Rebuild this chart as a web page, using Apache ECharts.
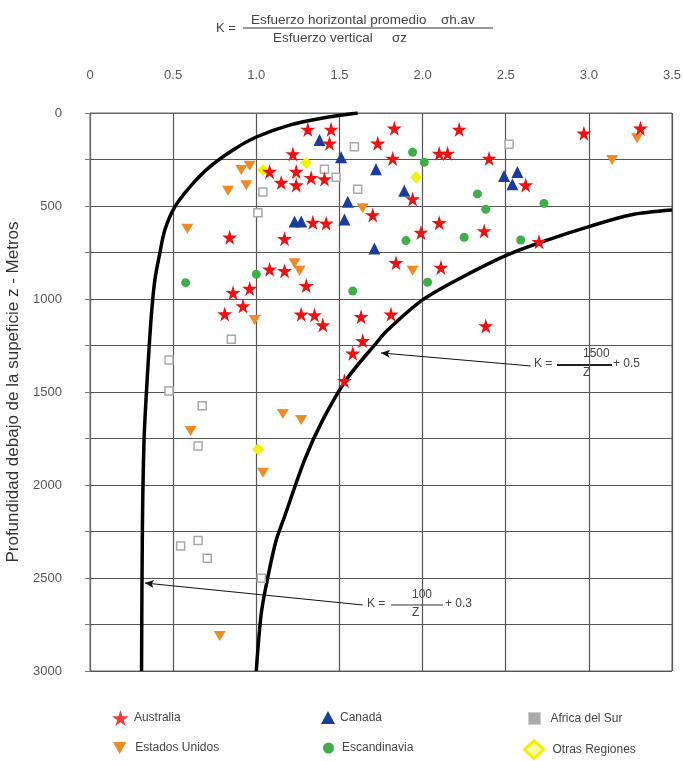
<!DOCTYPE html>
<html>
<head>
<meta charset="utf-8">
<script src="https://cdn.jsdelivr.net/npm/echarts@6/dist/echarts.min.js"></script>
<style>
  html, body { margin: 0; padding: 0; background: #fff; }
  #chart { width: 683px; height: 761px; }
</style>
</head>
<body>
<div id="chart"></div>
<script>
// eje x: K, eje y: profundidad z (m)
var xTicks = [0, 0.5, 1.0, 1.5, 2.0, 2.5, 3.0, 3.5];
var yTicks = [0, 500, 1000, 1500, 2000, 2500, 3000];

// [K, z]
var australia = [
  [1.31, 88], [1.45, 88], [1.44, 163], [1.22, 220], [1.08, 315], [1.24, 315], [1.33, 348], [1.41, 355],
  [1.15, 374], [1.24, 387], [1.34, 588], [1.42, 593], [0.84, 668], [1.17, 676], [1.08, 840], [1.17, 848],
  [1.30, 928], [0.86, 966], [0.96, 944], [0.92, 1038], [0.81, 1081], [1.27, 1082], [1.35, 1086], [1.40, 1140],
  [1.63, 1095], [1.64, 1225], [1.73, 163], [1.70, 548], [1.83, 82], [2.22, 88], [2.97, 109], [3.31, 82],
  [1.82, 244], [2.10, 217], [2.15, 217], [2.40, 244], [2.62, 387], [1.94, 462], [2.10, 590], [1.99, 642],
  [2.37, 634], [2.70, 692], [1.84, 805], [2.11, 830], [1.81, 1082], [2.38, 1145], [1.58, 1292], [1.53, 1439]
];
var canada = [
  [1.38, 145], [1.51, 238], [1.72, 303], [1.55, 477], [1.23, 584], [1.27, 584], [1.53, 572], [1.71, 728],
  [2.49, 339], [2.57, 317], [2.54, 383], [1.89, 418]
];
var africaSur = [
  [1.59, 181], [1.41, 303], [1.48, 346], [1.61, 410], [1.04, 425], [1.01, 536], [0.85, 1217], [2.52, 168],
  [0.475, 1328], [0.475, 1495], [0.675, 1574], [0.65, 1790], [0.545, 2328], [0.65, 2299], [0.705, 2394], [1.03, 2502]
];
var estadosUnidos = [
  [0.91, 306], [0.96, 283], [0.83, 418], [0.94, 389], [0.585, 622], [1.23, 808], [1.26, 848], [1.64, 512],
  [0.99, 1113], [3.29, 136], [3.14, 253], [1.94, 848], [0.605, 1710], [1.16, 1618], [1.27, 1651], [1.04, 1934],
  [0.78, 2812]
];
var escandinavia = [
  [0.575, 912], [1.00, 867], [1.58, 957], [1.94, 211], [2.01, 265], [2.33, 435], [2.38, 518], [2.73, 486],
  [1.90, 686], [2.25, 668], [2.59, 683], [2.03, 910]
];
var otrasRegiones = [[1.30, 267], [1.04, 306], [1.96, 346], [1.01, 1808]];

// curvas limite
var curvaBaja = [
  [1.61, 0], [1.40, 27], [1.20, 65], [1.00, 129], [0.86, 199], [0.72, 290], [0.60, 398], [0.51, 505],
  [0.45, 629], [0.42, 753], [0.39, 898], [0.37, 1075], [0.355, 1270], [0.34, 1490], [0.325, 1760],
  [0.315, 2240], [0.31, 3000]
];
var curvaAlta = [
  [3.5, 522], [3.25, 548], [3.01, 608], [2.75, 683], [2.51, 763], [2.24, 882], [2.00, 1005], [1.79, 1167],
  [1.72, 1238], [1.54, 1435], [1.40, 1650], [1.29, 1866], [1.17, 2170], [1.12, 2296], [1.07, 2493],
  [1.03, 2690], [1.00, 3000]
];
// flechas de las ecuaciones [desde, hasta]
var flechaAlta = [[2.65, 1360], [1.75, 1290]];
var flechaBaja = [[1.64, 2645], [0.33, 2527]];

var starPath = 'path://M50,0 L61,35 L98,35 L68,57 L79,91 L50,70 L21,91 L32,57 L2,35 L39,35 Z';
var downTri = 'path://M0,0 L10,0 L5,9 Z';
var txtColor = '#444';
var font = 'Liberation Sans';

function arrowLine(pts) {
  return {
    silent: true,
    animation: false,
    symbol: ['none', 'arrow'],
    symbolSize: [6, 9],
    label: { show: false },
    lineStyle: { color: '#111', width: 1, type: 'solid' },
    data: [[{ coord: pts[0] }, { coord: pts[1] }]]
  };
}

function fracText(x, y, str, size, align) {
  return {
    type: 'text', left: x, top: y,
    style: { text: str, fill: txtColor, font: size + 'px "' + font + '"', textAlign: align || 'left' }
  };
}

function legendBox(name, left, top, icon, size, gap, itemStyle) {
  return {
    data: [{ name: name, icon: icon, itemStyle: itemStyle }],
    left: left, top: top,
    itemWidth: size[0], itemHeight: size[1],
    textStyle: { color: txtColor, fontSize: 12, fontFamily: font, padding: [0, 0, 0, gap] }
  };
}

var chart = echarts.init(document.getElementById('chart'));
var option = {
  animation: false,
  backgroundColor: '#fff',
  grid: {
    left: 90, right: 11, top: 113, bottom: 90,
    containLabel: false,
    outerBoundsMode: 'none',
    show: true, borderColor: '#666', borderWidth: 1
  },
  xAxis: {
    type: 'value', position: 'top',
    min: 0, max: 3.5, interval: 0.5,
    axisLine: { show: true, lineStyle: { color: '#666' } },
    axisTick: { show: false },
    axisLabel: {
      margin: 31, color: '#555', fontSize: 13, fontFamily: font,
      formatter: function (v) { return v === 0 ? '0' : v.toFixed(1); }
    },
    splitLine: { show: true, lineStyle: { color: '#555', width: 1.2 } }
  },
  yAxis: {
    type: 'value', inverse: true,
    min: 0, max: 3000, interval: 250,
    name: 'Profundidad debajo de la supeficie z - Metros',
    nameLocation: 'middle', nameGap: 64, nameRotate: 90,
    nameTextStyle: { color: '#333', fontSize: 17, fontFamily: font },
    axisLine: { show: true, lineStyle: { color: '#666' } },
    axisTick: { show: true, length: 5, lineStyle: { color: '#777' } },
    axisLabel: {
      margin: 28, color: '#555', fontSize: 13, fontFamily: font,
      formatter: function (v) { return yTicks.indexOf(v) >= 0 ? String(v) : ''; }
    },
    splitLine: { show: true, lineStyle: { color: '#555', width: 1.2 } }
  },
  legend: [
    legendBox('Australia', 107, 705, starPath, [17, 16], 0, { color: '#f53a3a' }),
    legendBox('Canadá', 316, 706, 'triangle', [14, 13], 0),
    legendBox('Africa del Sur', 523, 707, 'rect', [12, 12], 5, { color: '#aaa', borderColor: '#ccc', borderWidth: 1 }),
    legendBox('Estados Unidos', 108, 737, downTri, [15, 12], 3),
    legendBox('Escandinavia', 318, 737, 'circle', [11, 11], 3),
    legendBox('Otras Regiones', 518, 734, 'diamond', [19, 18], 4, { color: '#fbfba0', borderColor: '#f0f000', borderWidth: 3 })
  ],
  graphic: [
    // titulo: K = esfuerzo horizontal / esfuerzo vertical
    fracText(216, 22, 'K =', 13),
    fracText(251, 13, 'Esfuerzo horizontal promedio', 13.5),
    fracText(441, 13, 'σh.av', 13.5),
    { type: 'line', shape: { x1: 243, y1: 28, x2: 493, y2: 28 }, style: { stroke: '#333', lineWidth: 1 } },
    fracText(273, 31, 'Esfuerzo vertical', 13.5),
    fracText(392, 31, 'σz', 13.5),
    // K = 1500/Z + 0.5
    fracText(534, 358, 'K =', 12),
    fracText(583, 348, '1500', 12, 'center'),
    { type: 'line', shape: { x1: 557, y1: 365, x2: 612, y2: 365 }, style: { stroke: '#222', lineWidth: 2 } },
    fracText(583, 367, 'Z', 12, 'center'),
    fracText(613, 358, '+ 0.5', 12),
    // K = 100/Z + 0.3
    fracText(367, 598, 'K =', 12),
    fracText(412, 589, '100', 12, 'center'),
    { type: 'line', shape: { x1: 391, y1: 605, x2: 443, y2: 605 }, style: { stroke: '#333', lineWidth: 1 } },
    fracText(412, 607, 'Z', 12, 'center'),
    fracText(445, 598, '+ 0.3', 12)
  ],
  series: [
    {
      name: 'curva alta', type: 'line', data: curvaAlta, smooth: 0.3,
      showSymbol: false, silent: true,
      lineStyle: { color: '#000', width: 3.5 }, z: 3, markLine: arrowLine(flechaAlta)
    },
    {
      name: 'curva baja', type: 'line', data: curvaBaja, smooth: 0.3,
      showSymbol: false, silent: true,
      lineStyle: { color: '#000', width: 3.5 }, z: 3, markLine: arrowLine(flechaBaja)
    },
    {
      name: 'Africa del Sur', type: 'scatter', data: africaSur, symbol: 'rect', symbolSize: 8,
      itemStyle: { color: '#fff', borderColor: '#a8a8a8', borderWidth: 1.5, opacity: 1 }, z: 4
    },
    {
      name: 'Estados Unidos', type: 'scatter', data: estadosUnidos, symbol: downTri, symbolSize: [12, 10],
      itemStyle: { color: '#f08a24', opacity: 1 }, z: 4
    },
    {
      name: 'Escandinavia', type: 'scatter', data: escandinavia, symbol: 'circle', symbolSize: 9,
      itemStyle: { color: '#3fae49', opacity: 1 }, z: 4
    },
    {
      name: 'Canadá', type: 'scatter', data: canada, symbol: 'triangle', symbolSize: 12,
      itemStyle: { color: '#1c3c9c', opacity: 1 }, z: 4
    },
    {
      name: 'Otras Regiones', type: 'scatter', data: otrasRegiones, symbol: 'diamond', symbolSize: 12,
      itemStyle: { color: '#f4f400', opacity: 1 }, z: 4
    },
    {
      name: 'Australia', type: 'scatter', data: australia, symbol: starPath, symbolSize: 15,
      itemStyle: { color: '#f01010', opacity: 1 }, z: 5
    }
  ]
};
chart.setOption(option);
</script>
</body>
</html>
